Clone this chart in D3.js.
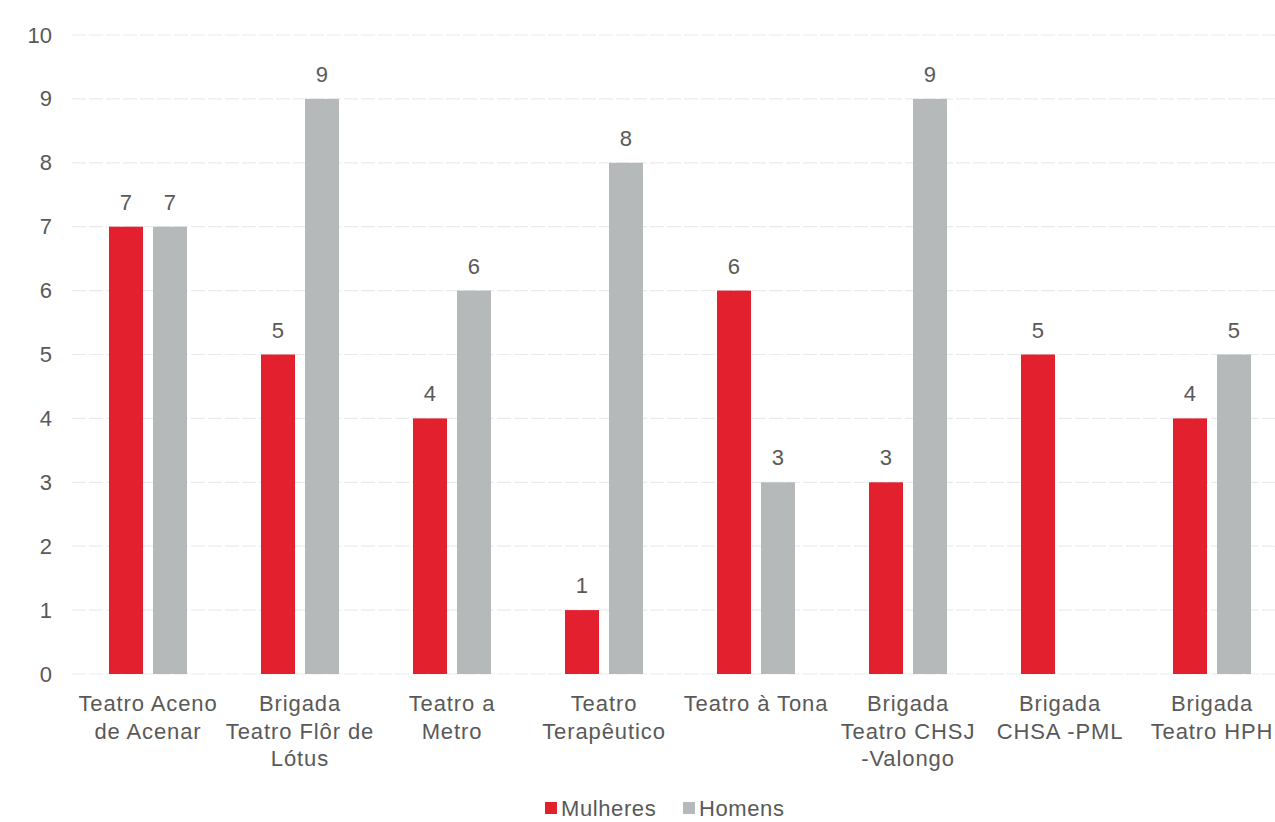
<!DOCTYPE html>
<html>
<head>
<meta charset="utf-8">
<script src="https://cdn.jsdelivr.net/npm/d3@7"></script>
<style>
  body { margin: 0; background: #fff; }
  svg text { font-family: "Liberation Sans", Arial, sans-serif; fill: #595959; }
</style>
</head>
<body>
<div id="chart"></div>
<script>
var categories = [
  ["Teatro Aceno", "de Acenar"],
  ["Brigada", "Teatro Flôr de", "Lótus"],
  ["Teatro a", "Metro"],
  ["Teatro", "Terapêutico"],
  ["Teatro à Tona"],
  ["Brigada", "Teatro CHSJ", "-Valongo"],
  ["Brigada", "CHSA -PML"],
  ["Brigada", "Teatro HPH"]
];
var mulheres = [7, 5, 4, 1, 6, 3, 5, 4];
var homens   = [7, 9, 6, 8, 3, 9, null, 5];
var series   = ["Mulheres", "Homens"];
var colors   = ["#e2202e", "#b5b9b9"];
var yTicks   = [0, 1, 2, 3, 4, 5, 6, 7, 8, 9, 10];

var W = 1275, H = 822;
var svg = d3.select("#chart").append("svg").attr("width", W).attr("height", H);

var x = d3.scaleBand()
  .domain(d3.range(categories.length))
  .range([72, 1288])
  .paddingInner(0.487)
  .paddingOuter(0.2435);

var x1 = d3.scaleBand()
  .domain(series)
  .range([0, x.bandwidth()])
  .paddingInner(0.227);

var y = d3.scaleLinear().domain([0, 10]).range([674, 35]);

var color = d3.scaleOrdinal().domain(series).range(colors);

// gridlines
svg.append("g").selectAll("line")
  .data(yTicks)
  .enter().append("line")
  .attr("x1", 72).attr("x2", W)
  .attr("y1", function(d){ return y(d); })
  .attr("y2", function(d){ return y(d); })
  .attr("stroke", "#eaecec")
  .attr("stroke-width", 1.2)
  .attr("stroke-dasharray", "14,3");

// y axis labels
var yAxis = d3.axisLeft(y).tickValues(yTicks).tickSize(0).tickPadding(0);
var ga = svg.append("g").attr("transform", "translate(52,0)").call(yAxis);
ga.select(".domain").remove();
ga.selectAll("text").style("font-size", "22px").attr("fill", "#666");

var rows = categories.map(function(c, i){
  return {i: i, values: [
    {key: "Mulheres", v: mulheres[i]},
    {key: "Homens", v: homens[i]}
  ]};
});

var groups = svg.append("g").selectAll("g")
  .data(rows)
  .enter().append("g")
  .attr("transform", function(d){ return "translate(" + x(d.i) + ",0)"; });

var bars = groups.selectAll("g.bar")
  .data(function(d){ return d.values.filter(function(v){ return v.v != null; }); })
  .enter().append("g").attr("class", "bar");

bars.append("rect")
  .attr("x", function(d){ return x1(d.key); })
  .attr("y", function(d){ return y(d.v); })
  .attr("width", x1.bandwidth())
  .attr("height", function(d){ return y(0) - y(d.v); })
  .attr("fill", function(d){ return color(d.key); });

bars.append("text")
  .attr("x", function(d){ return x1(d.key) + x1.bandwidth() / 2; })
  .attr("y", function(d){ return y(d.v) - 17; })
  .attr("text-anchor", "middle")
  .style("font-size", "22px")
  .text(function(d){ return d.v; });

// category labels
var cl = svg.append("g").selectAll("text")
  .data(categories)
  .enter().append("text")
  .attr("x", function(d, i){ return x(i) + x.bandwidth() / 2; })
  .attr("y", 711)
  .attr("text-anchor", "middle")
  .style("font-size", "22px")
  .style("letter-spacing", "0.9px");
cl.selectAll("tspan")
  .data(function(d){ return d; })
  .enter().append("tspan")
  .attr("x", function(){ return d3.select(this.parentNode).attr("x"); })
  .attr("dy", function(d, j){ return j === 0 ? 0 : 27.5; })
  .text(function(d){ return d; });

// legend
var legendX = [545, 683];
var lg = svg.append("g").selectAll("g")
  .data(series)
  .enter().append("g")
  .attr("transform", function(d, i){ return "translate(" + legendX[i] + ",802)"; });
lg.append("rect").attr("width", 12).attr("height", 12).attr("y", 0)
  .attr("fill", function(d){ return color(d); });
lg.append("text").attr("x", 16).attr("y", 14)
  .style("font-size", "22px")
  .style("letter-spacing", "0.6px")
  .text(function(d){ return d; });
</script>
</body>
</html>
